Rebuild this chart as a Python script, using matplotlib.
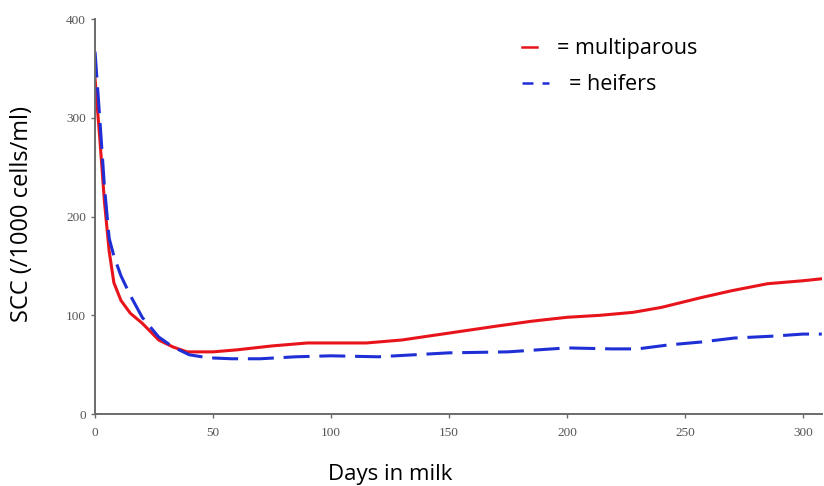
import matplotlib.pyplot as plt
from matplotlib.lines import Line2D

# values
days_multi = [0, 2, 4, 6, 8, 11, 15, 20, 27, 33, 39, 45, 50, 60, 75, 90, 100, 115, 130, 150, 170, 185, 200, 214, 228, 240, 257, 270, 285, 300, 308]
scc_multi = [340, 280, 215, 165, 133, 115, 102, 92, 75, 68, 63, 63, 63, 65, 69, 72, 72, 72, 75, 82, 89, 94, 98, 100, 103, 108, 118, 125, 132, 135, 137]

days_heif = [0, 2, 4, 6, 8, 11, 15, 20, 27, 33, 40, 48, 58, 70, 85, 100, 120, 135, 150, 175, 200, 219, 230, 243, 257, 271, 288, 300, 308]
scc_heif = [367, 300, 230, 178, 160, 140, 120, 98, 78, 68, 60, 57, 56, 56, 58, 59, 58, 60, 62, 63, 67, 66, 66, 70, 73, 77, 79, 81, 81]

xticks = [0, 50, 100, 150, 200, 250, 300]
yticks = [0, 100, 200, 300, 400]

red = '#e8141c'
blue = '#1f2fd6'
font = 'Open Sans'

fig = plt.figure(figsize=(8.24, 4.86), dpi=100)
ax = fig.add_axes([0.1153, 0.148, 0.882, 0.8128])

ax.plot(days_multi, scc_multi, color=red, lw=2.2)
ax.plot(days_heif, scc_heif, color=blue, lw=2.2, ls=(0, (8.5, 3.2)))

ax.set_xlim(0, 308)
ax.set_ylim(0, 400)
ax.set_xticks(xticks)
ax.set_yticks(yticks)
for s in ['top', 'right']:
    ax.spines[s].set_visible(False)
for s in ['left', 'bottom']:
    ax.spines[s].set_color('#6b6b6b')
    ax.spines[s].set_linewidth(1.4)
ax.tick_params(length=3, width=1, color='#6b6b6b', labelsize=9.5, labelcolor='#555555')
ax.tick_params(axis='x', pad=6)
for lab in ax.get_xticklabels() + ax.get_yticklabels():
    lab.set_family('Liberation Serif')

ax.set_xlabel('Days in milk', fontsize=16, family=font, va='center')
ax.xaxis.set_label_coords(0.406, -0.152)
ax.set_ylabel('SCC (/1000 cells/ml)', fontsize=17, family=font, va='center')
ax.yaxis.set_label_coords(-0.100, 0.506)

# two legends so the handles can differ in length like the original
h_multi = Line2D([], [], color=red, lw=1.8)
h_heif = Line2D([], [], color=blue, lw=1.8, ls=(0, (4.4, 3.6)))
leg1 = ax.legend([h_multi], ['= multiparous'], loc='center left',
                 bbox_to_anchor=(0.587, 0.925), frameon=False,
                 prop={'family': font, 'size': 15.5}, handlelength=0.7,
                 handletextpad=0.95, borderpad=0, borderaxespad=0)
ax.add_artist(leg1)
ax.legend([h_heif], ['= heifers'], loc='center left',
          bbox_to_anchor=(0.587, 0.834), frameon=False,
          prop={'family': font, 'size': 15.5}, handlelength=1.25,
          handletextpad=0.95, borderpad=0, borderaxespad=0)

fig.savefig('out.png', dpi=100)
